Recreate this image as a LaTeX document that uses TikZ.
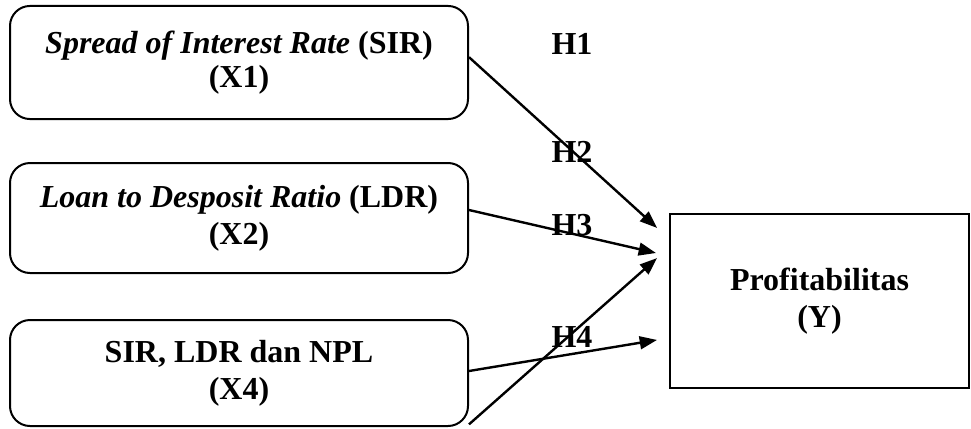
\documentclass[tikz,border=0pt]{standalone}
\usepackage{fontspec}
\setmainfont{Liberation Serif}
\usetikzlibrary{arrows.meta,positioning,calc}

\begin{document}
\begin{tikzpicture}[
  x=0.375pt, y=-0.375pt,
  every node/.style={font=\fontsize{12}{14}\selectfont\bfseries},
  indep/.style={draw, line width=0.75pt, rounded corners=7.5pt,
                minimum width=171.75pt, align=center, inner sep=0pt},
  dep/.style={draw, line width=0.75pt, minimum width=112.1pt,
              minimum height=65.25pt, align=center, inner sep=0pt},
  hyp/.style={font=\fontsize{12}{14}\selectfont\bfseries},
  link/.style={-{Triangle[length=6.5pt,width=4.8pt]}, line width=0.9pt},
]
  \useasboundingbox (0,0) rectangle (971,428);

  % Independent variables
  \node[indep, minimum height=42.4pt] (sir) at (239, 62.5)
    {\textit{Spread of Interest Rate} (SIR)\\[-1.5pt](X1)};
  \node[indep, minimum height=41.25pt] (ldr) at (239, 218)
    {\textit{Loan to Desposit Ratio} (LDR)\\(X2)};
  \node[indep, minimum height=39.75pt] (all) at (239, 373)
    {SIR, LDR dan NPL\\(X4)};

  % Dependent variable
  \node[dep] (prof) at (819.5, 301) {Profitabilitas\\(Y)};

  % Hypothesis links
  \draw[link] ([yshift=2pt]sir.east) -- ([xshift=-4.5pt, yshift=27.4pt]prof.west);
  \draw[link] ([yshift=3pt]ldr.east) -- ([xshift=-4.9pt, yshift=18pt]prof.west);
  \draw[link] ([yshift=0.75pt]all.east) -- ([xshift=-4.5pt, yshift=-14.6pt]prof.west);
  \draw[link] ([yshift=1pt]all.south east) -- ([xshift=-4.5pt, yshift=16.1pt]prof.west);

  % Labels
  \node[hyp] (h1) at (572, 44) {H1};
  \node[hyp] (h2) at (572, 152) {H2};
  \node[hyp] (h3) at (572, 225) {H3};
  \node[hyp] (h4) at (572, 337) {H4};
\end{tikzpicture}
\end{document}
